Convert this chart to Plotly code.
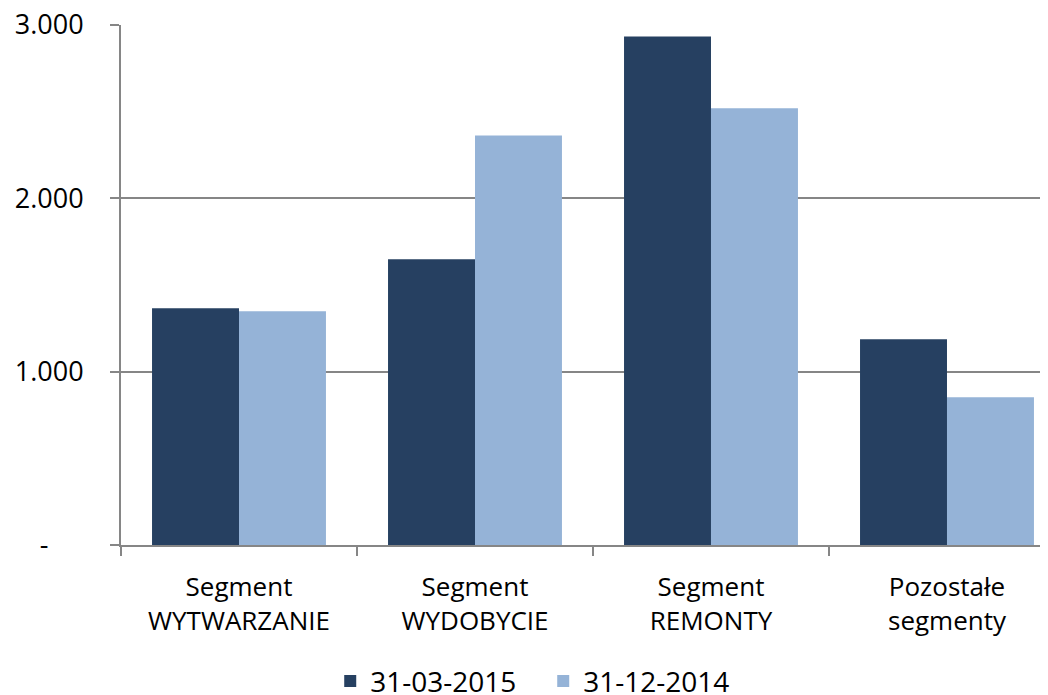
import plotly.graph_objects as go

categories = ["Segment<br>WYTWARZANIE", "Segment<br>WYDOBYCIE", "Segment<br>REMONTY", "Pozostałe<br>segmenty"]
series_names = ["31-03-2015", "31-12-2014"]
values_2015 = [1366, 1648, 2934, 1187]
values_2014 = [1349, 2363, 2519, 853]
y_tickvals = [0, 1000, 2000, 3000]
y_ticktext = ["-" + "\u00a0" * 5, "1.000", "2.000", "3.000"]

colors = ["#264061", "#95B3D7"]
FONT = "Open Sans"
GRID = "#868686"

fig = go.Figure()
for name, vals, col in zip(series_names, [values_2015, values_2014], colors):
    fig.add_trace(go.Bar(x=categories, y=vals, name=name, marker=dict(color=col, line=dict(width=0))))

# page body has an 8px margin, so the figure is sized/offset to compensate
fig.update_layout(
    width=1040, height=687,
    margin=dict(l=113, r=0, t=17, b=150, autoexpand=False),
    paper_bgcolor="white", plot_bgcolor="white",
    barmode="group", bargap=0.263, bargroupgap=0,
    font=dict(family=FONT, color="black"),
    showlegend=True,
    legend=dict(orientation="h", x=0.2257, xanchor="left", y=-0.262, yanchor="middle",
                font=dict(size=28, family=FONT, color="black"), entrywidth=168, entrywidthmode="pixels",
                traceorder="normal"),
)
fig.update_xaxes(
    type="category", range=[-0.5, 3.428], automargin=False,
    showline=True, linecolor=GRID, linewidth=2,
    ticks="outside", tickson="boundaries", ticklen=9, tickwidth=2, tickcolor=GRID,
    tickfont=dict(size=26, family=FONT, color="black"), ticklabelstandoff=18,
    ticklabeloverflow="allow",
    showgrid=False, zeroline=False,
)
fig.update_yaxes(
    range=[0, 3000], tickvals=y_tickvals, ticktext=y_ticktext, automargin=False,
    showline=True, linecolor=GRID, linewidth=2,
    ticks="outside", ticklen=9, tickwidth=2, tickcolor=GRID,
    tickfont=dict(size=27, family=FONT, color="black"), ticklabelstandoff=21,
    ticklabeloverflow="allow",
    showgrid=True, gridcolor=GRID, gridwidth=2, zeroline=False,
)
fig.write_html("out.html")
